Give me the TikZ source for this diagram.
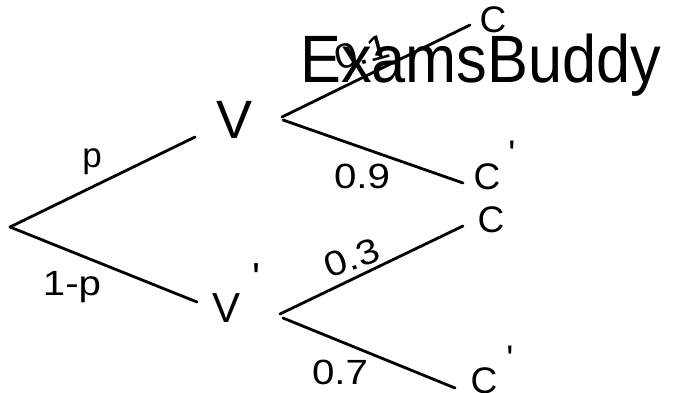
\documentclass[tikz,border=0pt]{standalone}
\usepackage{fontspec}
\setmainfont{Liberation Sans}
\newcommand{\hw}[1]{\scalebox{1.15}[1]{#1}}
\begin{document}
\begin{tikzpicture}[x=1pt,y=-1pt,
  branch/.style={line width=2.8pt,line cap=round,black},
  big/.style={inner sep=0pt,font=\fontsize{54}{54}\selectfont},
  mid/.style={inner sep=0pt,font=\fontsize{42}{42}\selectfont},
  leaf/.style={inner sep=0pt,font=\fontsize{37}{37}\selectfont},
  prob/.style={inner sep=0pt,font=\fontsize{35}{35}\selectfont},
  wm/.style={inner sep=0pt,anchor=base west,font=\fontsize{67}{67}\mdseries\selectfont}]
\useasboundingbox (0,0) rectangle (673,392);
% nodes
\coordinate (root) at (10,227);
\node[big] (V) at (235,120) {V};
\node[mid] (Vp) at (227,308) {V};
\node[mid] (Vpprime) at (257,278) {\textquotesingle};
\node[leaf] (C1) at (493,20) {C};
\node[leaf] (C2) at (487,177) {C};
\node[leaf] (C2prime) at (512,154) {\textquotesingle};
\node[leaf] (C3) at (491,220) {C};
\node[leaf] (C4) at (484,381) {C};
\node[leaf] (C4prime) at (510,359) {\textquotesingle};
% connector end points
\coordinate (Vin) at (195,137);
\coordinate (Vpin) at (197,302);
\coordinate (Vout1) at (282,117);
\coordinate (Vout2) at (283,120);
\coordinate (C1in) at (470,25);
\coordinate (C2in) at (463,183);
\coordinate (Vpout1) at (280,314);
\coordinate (Vpout2) at (283,318);
\coordinate (C3in) at (463,226);
\coordinate (C4in) at (455,388);
% branches
\draw[branch] (root) -- (Vin);
\draw[branch] (root) -- (Vpin);
\draw[branch] (Vout1) -- (C1in);
\draw[branch] (Vout2) -- (C2in);
\draw[branch] (Vpout1) -- (C3in);
\draw[branch] (Vpout2) -- (C4in);
% probabilities
\node[prob] (pp) at (92,162) {p};
\node[prob] (pq) at (72,287) {\hw{1-p}};
\node[prob,rotate=15] (p1) at (362,52) {\hw{0.1}};
\node[prob] (p2) at (362,176) {\hw{0.9}};
\node[prob,rotate=20] (p3) at (352,258) {\hw{0.3}};
\node[prob] (p4) at (340,372) {\hw{0.7}};
% watermark
\node[wm] (mark) at (300,82) {\scalebox{0.915}[1]{ExamsBuddy}};
\end{tikzpicture}
\end{document}
